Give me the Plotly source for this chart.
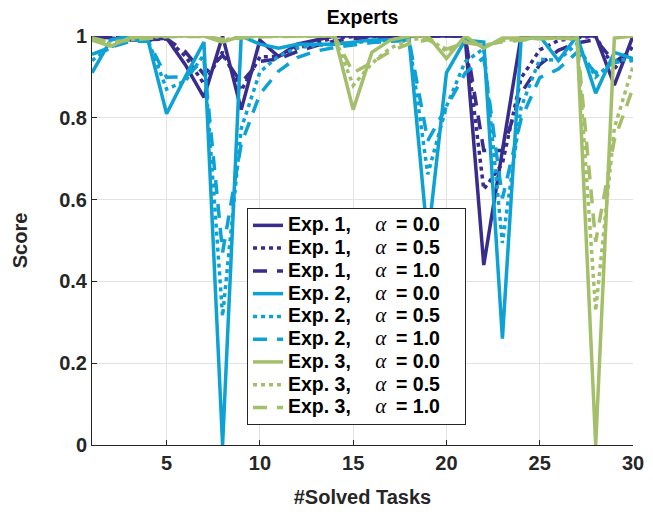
import plotly.graph_objects as go

tasks = list(range(1, 31))

exp1_a00 = [1.00, 0.995, 0.99, 0.99, 0.995, 0.93, 0.85, 1.00, 0.82, 0.99, 0.95, 0.98, 0.99, 1, 1, 1, 1, 1, 1, 1, 1,
            0.44, 0.72, 1, 1, 1, 1, 1, 0.88, 1.0]
exp1_a05 = [1.0, 0.997, 0.992, 0.99, 0.994, 0.951, 0.883, 0.961, 0.867, 0.949, 0.95, 0.97, 0.984, 0.995, 0.998,
            0.999, 1, 1, 1, 1, 1, 0.625, 0.688, 0.897, 0.966, 0.989, 0.996, 0.999, 0.92, 0.974]
exp1_a10 = [1.0, 0.998, 0.994, 0.992, 0.993, 0.962, 0.906, 0.953, 0.886, 0.938, 0.944, 0.962, 0.976, 0.988, 0.994,
            0.997, 0.998, 0.999, 1, 1, 1, 0.72, 0.72, 0.86, 0.93, 0.965, 0.983, 0.991, 0.936, 0.968]

exp2_a00 = [0.91, 0.99, 1.0, 0.99, 0.81, 0.90, 0.985, 0.0, 1.0, 0.98, 0.97, 0.98, 0.98, 0.98, 0.985, 0.99, 0.99,
            0.99, 0.5, 0.91, 0.99, 0.985, 0.26, 0.99, 1.0, 0.94, 1.0, 0.86, 0.96, 0.945]
exp2_a05 = [0.94, 0.973, 0.991, 0.99, 0.87, 0.89, 0.954, 0.315, 0.774, 0.912, 0.951, 0.971, 0.977, 0.979, 0.983,
            0.988, 0.989, 0.99, 0.662, 0.828, 0.937, 0.969, 0.494, 0.826, 0.943, 0.941, 0.981, 0.90, 0.94, 0.943]
exp2_a10 = [0.955, 0.973, 0.986, 0.988, 0.899, 0.90, 0.942, 0.471, 0.736, 0.858, 0.914, 0.947, 0.963, 0.972, 0.978,
            0.984, 0.987, 0.989, 0.744, 0.827, 0.909, 0.947, 0.603, 0.797, 0.898, 0.919, 0.96, 0.91, 0.935, 0.94]

exp3_a00 = [0.99, 0.975, 0.995, 1, 1, 1, 1, 0.985, 1, 1, 1, 1, 1, 1, 0.82, 0.96, 0.99, 1, 1, 0.945, 1, 0.97, 0.995,
            0.995, 0.995, 0.995, 0.995, 0.0, 0.995, 1.0]
exp3_a05 = [0.993, 0.981, 0.991, 0.997, 0.999, 1, 1, 0.99, 0.997, 0.999, 1, 1, 1, 1, 0.879, 0.933, 0.971, 0.99,
            0.997, 0.962, 0.987, 0.976, 0.989, 0.993, 0.995, 0.995, 0.995, 0.328, 0.775, 0.926]
exp3_a10 = [0.995, 0.985, 0.99, 0.995, 0.998, 0.999, 0.999, 0.992, 0.996, 0.998, 0.999, 1, 1, 1, 0.91, 0.935, 0.963,
            0.981, 0.991, 0.968, 0.984, 0.977, 0.986, 0.99, 0.993, 0.994, 0.994, 0.497, 0.746, 0.873]

series = [
    ("1", "0.0", exp1_a00), ("1", "0.5", exp1_a05), ("1", "1.0", exp1_a10),
    ("2", "0.0", exp2_a00), ("2", "0.5", exp2_a05), ("2", "1.0", exp2_a10),
    ("3", "0.0", exp3_a00), ("3", "0.5", exp3_a05), ("3", "1.0", exp3_a10),
]
colors = {"1": "#382C8C", "2": "#0EA2D4", "3": "#A4BF6A"}
dashes = {"0.0": "solid", "0.5": "4px,4px", "1.0": "14px,10px"}

x_ticks = [5, 10, 15, 20, 25, 30]
y_ticks = [0, 0.2, 0.4, 0.6, 0.8, 1]
y_tick_text = ["0", "0.2", "0.4", "0.6", "0.8", "1"]

FONT = "Liberation Sans, Arial, sans-serif"

fig = go.Figure()
for e, a, vals in series:
    name = (f"<b><span style='font-size:19.5px'>Exp. {e},\u2003\u2005</span></b>"
            f"<span style='font-family:Liberation Serif;font-style:italic;font-size:21px'>α</span>"
            f"<b><span style='font-size:19.5px'>\u2005\u2005= {a}\u2003</span></b>")
    fig.add_trace(go.Scatter(
        x=tasks, y=vals, mode="lines", name=name, cliponaxis=False,
        line=dict(color=colors[e], width=3.5, dash=dashes[a]),
    ))

axis_common = dict(
    showgrid=True, gridcolor="#E3E3E3", gridwidth=1,
    zeroline=False, showline=True, linecolor="#262626", linewidth=1,
    ticks="inside", ticklen=5, tickcolor="#262626", mirror=False,
    tickfont=dict(family=FONT, size=20, color="#262626"),
    automargin=False,
)

fig.update_layout(
    width=653, height=514,
    margin=dict(l=92, r=20, t=36, b=69),
    paper_bgcolor="white", plot_bgcolor="white",
    font=dict(family=FONT, color="#262626"),
    title=dict(text="<b>Experts</b>", x=0.5, xref="paper", y=1 - 17 / 514, yref="container",
               yanchor="middle", font=dict(family=FONT, size=19.5, color="black")),
    xaxis=dict(range=[1, 30], tickvals=x_ticks, ticktext=[f"<b>{t}</b>" for t in x_ticks],
               title=dict(text="<b>#Solved Tasks</b>", font=dict(family=FONT, size=20, color="#262626"),
                          standoff=16),
               **axis_common),
    yaxis=dict(range=[0, 1], tickvals=y_ticks, ticktext=[f"<b>{t}</b>" for t in y_tick_text],
               title=dict(text="<b>Score</b>", font=dict(family=FONT, size=20, color="#262626"),
                          standoff=26),
               **axis_common),
    legend=dict(x=0.2865, y=0.5795, xanchor="left", yanchor="top",
                bgcolor="white", bordercolor="#262626", borderwidth=1,
                font=dict(family=FONT, size=15.2, color="black"),
                tracegroupgap=0),
    showlegend=True,
)

fig.write_html("out.html")
